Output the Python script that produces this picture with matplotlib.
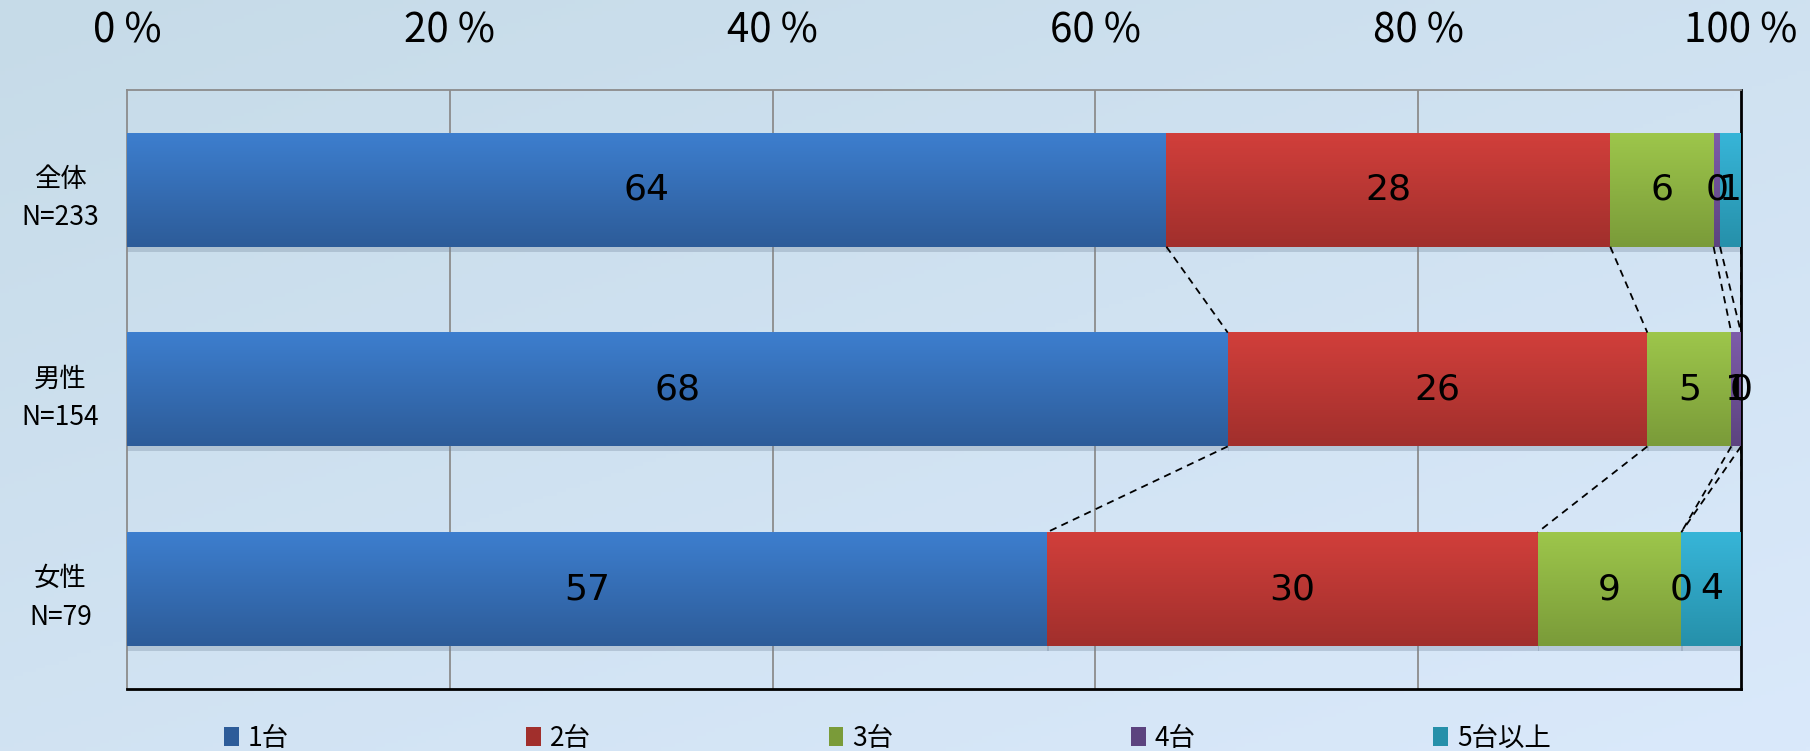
import numpy as np
import matplotlib
matplotlib.use("Agg")
import matplotlib.pyplot as plt
from matplotlib.colors import LinearSegmentedColormap, to_rgb
from matplotlib.patches import Patch, Rectangle

plt.rcParams['font.family'] = ['Noto Sans CJK JP', 'DejaVu Sans']

# ---- data ----
categories = ["全体\nN=233", "男性\nN=154", "女性\nN=79"]
series_names = ["1台", "2台", "3台", "4台", "5台以上"]
v_1 = [64.4, 68.2, 57.0]
v_2 = [27.5, 26.0, 30.4]
v_3 = [6.4, 5.2, 8.9]
v_4 = [0.4, 0.6, 0.0]
v_5 = [1.3, 0.0, 3.8]
xticks = [0, 20, 40, 60, 80, 100]
xtick_labels = ["0 %", "20 %", "40 %", "60 %", "80 %", "100 %"]

series = [v_1, v_2, v_3, v_4, v_5]
top_cols = ["#3d7ece", "#d13f3b", "#9dc64b", "#7d5ca9", "#37b5d8"]
bot_cols = ["#2d5c99", "#a12f2c", "#7a9b39", "#5c437f", "#2690aa"]

W, H = 1810, 751
fig = plt.figure(figsize=(W / 100, H / 100), dpi=100)

# background gradient
bg = fig.add_axes([0, 0, 1, 1], zorder=-10)
yy, xx = np.mgrid[0:1:200j, 0:1:400j]
t = np.clip(0.55 * yy + 0.45 * xx, 0, 1)
c0 = np.array(to_rgb("#c6dbe8"))
c1 = np.array(to_rgb("#dae9fb"))
img = c0[None, None, :] * (1 - t[..., None]) + c1[None, None, :] * t[..., None]
bg.imshow(img, aspect="auto", extent=(0, 1, 0, 1), origin="upper")
bg.axis("off")

ax = fig.add_axes([127 / W, 1 - 689 / H, (1741 - 127) / W, (689 - 90) / H])
ax.set_facecolor("none")

bar_h = 0.57
n = len(categories)
ypos = np.arange(n)
left = np.zeros(n)
cum_ends = []
for si, vals in enumerate(series):
    vals = np.array(vals, dtype=float)
    cmap = LinearSegmentedColormap.from_list("g%d" % si, [top_cols[si], bot_cols[si]])
    grad = np.linspace(0, 1, 64).reshape(-1, 1)
    for i in range(n):
        if vals[i] <= 0:
            continue
        # shadow
        ax.add_patch(Rectangle((left[i], ypos[i] - bar_h / 2 + 0.025), vals[i] + 0.1, bar_h,
                               facecolor="#6f8298", alpha=0.3, edgecolor="none", zorder=2))
        ax.imshow(grad, cmap=cmap, aspect="auto", origin="upper",
                  extent=(left[i], left[i] + vals[i], ypos[i] + bar_h / 2, ypos[i] - bar_h / 2),
                  zorder=3, interpolation="bilinear")
    for i in range(n):
        ax.text(left[i] + vals[i] / 2, ypos[i], "%.0f" % vals[i], ha="center", va="center",
                fontsize=26, family="DejaVu Sans", color="black", zorder=5)
    left = left + vals
    cum_ends.append(left.copy())

ax.set_xlim(0, 100)
ax.set_ylim(2.5, -0.5)

# series lines
for ends in cum_ends:
    for i in range(n - 1):
        ax.plot([ends[i], ends[i + 1]], [ypos[i] + bar_h / 2, ypos[i + 1] - bar_h / 2],
                color="black", lw=1.3, ls=(0, (4, 3)), zorder=4)

# grid
for xv in xticks[1:-1]:
    ax.axvline(xv, color="#8c8c8c", lw=1.3, zorder=1)

ax.xaxis.tick_top()
ax.set_xticks(xticks)
ax.set_xticklabels(xtick_labels, fontsize=29)
ax.tick_params(axis="x", length=0, pad=28)
ax.set_yticks(ypos)
ax.set_yticklabels(categories, fontsize=19, linespacing=1.55)
for lab in ax.get_yticklabels():
    lab.set_horizontalalignment("center")
ax.tick_params(axis="y", length=0, pad=48)

ax.spines["left"].set_color("#8c8c8c")
ax.spines["top"].set_color("#8c8c8c")
ax.spines["left"].set_linewidth(1.3)
ax.spines["top"].set_linewidth(1.3)
ax.spines["right"].set_color("black")
ax.spines["bottom"].set_color("black")
ax.spines["right"].set_linewidth(2)
ax.spines["bottom"].set_linewidth(2)

handles = [Patch(facecolor=bot_cols[i], edgecolor="none") for i in range(len(series_names))]
fig.legend(handles, series_names, loc="center left", bbox_to_anchor=(224 / W, 1 - 738 / H),
           ncol=5, frameon=False, fontsize=19, handlelength=0.55, handleheight=0.75,
           handletextpad=0.35, columnspacing=9.0, borderaxespad=0, borderpad=0)

fig.savefig("out.png", dpi=100)
